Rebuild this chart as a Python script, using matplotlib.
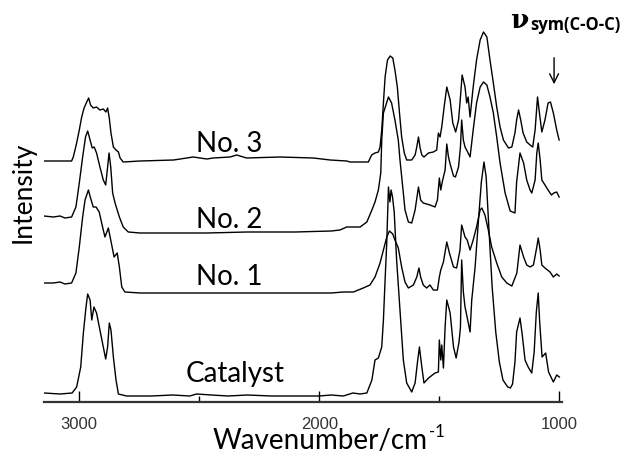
import numpy as np
import matplotlib.pyplot as plt

# spectra: (wavenumber cm-1, intensity a.u.)
catalyst = [(3147, 9), (3080, 8), (3030, 9), (3011, 15), (2994, 35), (2983, 69), (2972, 95),
            (2965, 108), (2955, 102), (2948, 82), (2939, 95), (2928, 89), (2914, 72), (2900, 55),
            (2890, 43), (2882, 55), (2875, 79), (2868, 72), (2858, 45), (2847, 22), (2837, 8),
            (2803, 6), (2700, 6), (2610, 7), (2540, 6), (2511, 8), (2450, 7), (2380, 6), (2300, 7),
            (2200, 6), (2100, 6), (2000, 6), (1950, 7), (1900, 6), (1860, 9), (1830, 8), (1802, 9),
            (1781, 22), (1768, 42), (1754, 44), (1740, 55), (1733, 82), (1726, 122), (1719, 160),
            (1712, 215), (1706, 200), (1701, 212), (1695, 205), (1688, 190), (1678, 142), (1664, 92),
            (1650, 42), (1636, 19), (1615, 10), (1601, 19), (1590, 42), (1583, 55), (1573, 35),
            (1564, 19), (1545, 24), (1518, 29), (1504, 30), (1500, 62), (1494, 42), (1490, 57),
            (1483, 34), (1476, 75), (1469, 102), (1455, 89), (1441, 55), (1430, 44), (1418, 60),
            (1412, 75), (1407, 142), (1400, 110), (1393, 95), (1386, 87), (1372, 70), (1365, 102),
            (1351, 135), (1337, 182), (1325, 220), (1314, 240), (1305, 225), (1295, 180), (1280, 115),
            (1265, 70), (1250, 40), (1235, 22), (1215, 15), (1204, 14), (1195, 18), (1185, 40),
            (1178, 70), (1164, 84), (1155, 68), (1143, 42), (1130, 35), (1115, 29), (1105, 50),
            (1096, 90), (1088, 109), (1082, 80), (1072, 45), (1057, 49), (1045, 30), (1025, 20),
            (1011, 27), (1000, 25)]

no1 = [(3147, 19), (3108, 19), (3080, 20), (3060, 18), (3032, 19), (3014, 29), (3000, 55),
       (2986, 85), (2976, 102), (2962, 112), (2953, 104), (2942, 95), (2930, 95), (2917, 90),
       (2903, 75), (2893, 65), (2879, 74), (2869, 62), (2855, 45), (2842, 49), (2833, 35),
       (2823, 15), (2810, 10), (2747, 9), (2600, 9), (2469, 9), (2300, 9), (2100, 9), (1950, 9),
       (1900, 10), (1858, 10), (1817, 14), (1789, 17), (1768, 25), (1747, 39), (1733, 52),
       (1719, 65), (1708, 71), (1694, 68), (1685, 62), (1671, 54), (1657, 35), (1643, 20),
       (1629, 14), (1608, 17), (1594, 25), (1585, 34), (1578, 25), (1567, 17), (1553, 14),
       (1539, 17), (1525, 12), (1508, 12), (1500, 25), (1494, 32), (1483, 40), (1469, 60),
       (1458, 49), (1441, 35), (1428, 34), (1414, 52), (1407, 77), (1393, 65), (1384, 62),
       (1372, 52), (1359, 62), (1345, 75), (1330, 92), (1323, 94), (1310, 87), (1296, 72),
       (1282, 55), (1261, 39), (1240, 25), (1219, 19), (1198, 16), (1177, 29), (1164, 57),
       (1149, 45), (1136, 37), (1122, 35), (1108, 37), (1094, 55), (1088, 64), (1080, 52),
       (1073, 37), (1060, 34), (1039, 30), (1025, 25), (1011, 28), (1001, 26)]

no2 = [(3147, 26), (3108, 25), (3080, 26), (3060, 24), (3032, 25), (3014, 35), (3000, 59),
       (2986, 85), (2974, 105), (2965, 111), (2955, 102), (2946, 94), (2938, 95), (2928, 89),
       (2914, 75), (2900, 62), (2890, 57), (2882, 75), (2876, 89), (2869, 75), (2861, 49),
       (2851, 39), (2842, 32), (2833, 25), (2817, 15), (2796, 10), (2747, 9), (2600, 9),
       (2469, 9), (2300, 10), (2100, 10), (1950, 11), (1914, 12), (1886, 15), (1850, 15),
       (1830, 15), (1802, 20), (1781, 32), (1768, 40), (1754, 52), (1744, 69), (1740, 102),
       (1733, 129), (1712, 145), (1699, 139), (1685, 122), (1671, 102), (1664, 82), (1650, 49),
       (1643, 32), (1629, 20), (1615, 19), (1601, 32), (1587, 55), (1578, 42), (1567, 39),
       (1539, 37), (1518, 35), (1508, 42), (1500, 64), (1494, 52), (1488, 60), (1476, 72),
       (1469, 98), (1462, 85), (1455, 78), (1441, 66), (1433, 65), (1420, 75), (1412, 95),
       (1407, 122), (1400, 102), (1393, 95), (1380, 89), (1372, 85), (1359, 112), (1345, 139),
       (1330, 155), (1316, 160), (1302, 157), (1289, 145), (1275, 129), (1261, 105), (1247, 79),
       (1226, 49), (1205, 31), (1185, 29), (1178, 60), (1164, 89), (1149, 79), (1136, 62),
       (1122, 52), (1115, 49), (1101, 62), (1094, 89), (1088, 99), (1080, 82), (1073, 62),
       (1060, 57), (1047, 52), (1033, 47), (1023, 49), (1011, 50), (1001, 45)]

no3 = [(3147, 11), (3080, 11), (3032, 11), (3025, 15), (3011, 29), (3000, 42), (2990, 55),
       (2980, 64), (2969, 70), (2961, 74), (2953, 67), (2942, 64), (2928, 65), (2914, 62),
       (2900, 63), (2889, 60), (2882, 64), (2875, 54), (2868, 39), (2858, 25), (2847, 22),
       (2837, 20), (2830, 14), (2817, 10), (2747, 11), (2607, 12), (2525, 15), (2469, 13),
       (2442, 14), (2372, 15), (2344, 17), (2303, 14), (2164, 15), (2025, 14), (1955, 12),
       (1886, 11), (1872, 10), (1796, 10), (1782, 17), (1768, 19), (1754, 20), (1747, 25),
       (1740, 42), (1733, 69), (1726, 95), (1716, 112), (1705, 116), (1694, 114), (1685, 102),
       (1675, 85), (1666, 59), (1657, 35), (1646, 19), (1636, 12), (1615, 12), (1601, 17),
       (1594, 25), (1587, 35), (1580, 24), (1573, 17), (1564, 15), (1545, 19), (1525, 20),
       (1511, 22), (1504, 39), (1497, 35), (1490, 45), (1480, 65), (1469, 85), (1455, 72),
       (1444, 49), (1432, 40), (1420, 52), (1414, 69), (1405, 97), (1393, 85), (1386, 69),
       (1380, 75), (1372, 55), (1359, 85), (1345, 112), (1330, 132), (1316, 140), (1302, 135),
       (1289, 112), (1275, 89), (1261, 65), (1247, 45), (1233, 32), (1212, 24), (1198, 25),
       (1185, 39), (1178, 52), (1170, 62), (1161, 52), (1151, 39), (1136, 30), (1122, 27),
       (1111, 25), (1101, 42), (1091, 75), (1083, 59), (1073, 40), (1060, 52), (1047, 69),
       (1037, 70), (1025, 59), (1011, 42), (1001, 32)]

series = [catalyst, no1, no2, no3]
names = ['Catalyst', 'No. 1', 'No. 2', 'No. 3']
offsets = [0, 100, 160, 230]

fig = plt.figure(figsize=(6.33, 4.54), dpi=100)
ax = fig.add_axes([44 / 633, 52 / 454, 518 / 633, 402 / 454])

for data, off in zip(series, offsets):
    wn, val = np.array(data, dtype=float).T
    ax.plot(wn, val + off, color='black', lw=1.0)

# curve labels
label_pos = [(2555, 20), (2514, 117), (2514, 174), (2514, 250)]
for name, (x, y) in zip(names, label_pos):
    ax.text(x, y, name, fontsize=20, family='Lato', ha='left', va='baseline')

ax.set_xlim(3147, 989)
ax.set_ylim(0, 402)
for s in ['left', 'right', 'top']:
    ax.spines[s].set_visible(False)
ax.spines['bottom'].set_linewidth(1.6)
ax.spines['bottom'].set_color('#333333')
ax.set_yticks([])
ax.set_xticks([3000, 2000, 1000])
ax.set_xticks([2500, 1500], minor=True)
ax.tick_params(axis='x', which='major', direction='in', length=8, width=1, pad=11,
               labelsize=12, labelcolor='#333333')
ax.tick_params(axis='x', which='minor', direction='in', length=4, width=1)
for t in ax.get_xticklabels():
    t.set_family('Liberation Sans')

# axis titles
fig.text(428 / 633, 1 - 449 / 454, 'Wavenumber/cm', fontsize=20, family='Lato',
         ha='right', va='baseline')
fig.text(429 / 633, 1 - 437 / 454, '-1', fontsize=12, family='Lato',
         ha='left', va='baseline')
fig.text(23 / 633, 1 - 192 / 454, 'Intensity', fontsize=19, family='Lato',
         rotation=90, ha='center', va='center')

# nu_sym(C-O-C) marker
fig.text(510 / 633, 1 - 28 / 454, 'ν', fontsize=19, fontweight='bold', family='DejaVu Serif',
         ha='left', va='baseline')
fig.text(530 / 633, 1 - 30 / 454, 'sym(C-O-C)', fontsize=12, fontweight='bold', family='Open Sans',
         ha='left', va='baseline')
ax.annotate('', xy=(1022, 315), xytext=(1022, 347),
            arrowprops=dict(arrowstyle='->', lw=1, color='black', mutation_scale=16))

fig.savefig('out.png', dpi=100)
